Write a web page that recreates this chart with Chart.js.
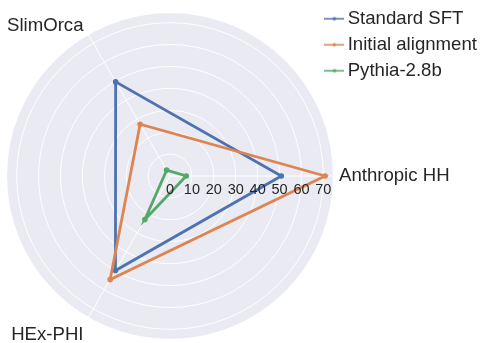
<!DOCTYPE html>
<html>
<head>
<meta charset="utf-8">
<script src="https://cdn.jsdelivr.net/npm/chart.js@4/dist/chart.umd.min.js"></script>
<style>
  html, body { margin: 0; padding: 0; background: #ffffff; }
  canvas { display: block; }
</style>
</head>
<body>
<canvas id="radar" width="482" height="343"></canvas>
<script>
// Data (order follows Chart.js clockwise order starting at the right)
const categories = ['Anthropic HH', 'HEx-PHI', 'SlimOrca'];
const standardSft = [50.8, 49.8, 49.6];
const initialAlignment = [70.8, 54.6, 27.3];
const pythia = [7.4, 22.9, 3.1];
const seriesNames = ['Standard SFT', 'Initial alignment', 'Pythia-2.8b'];
const rMax = 74.4;
const rStep = 10;

const textColor = '#262626';
const fontFamily = '"Liberation Sans", Arial, sans-serif';
const colors = ['#4C72B0', '#DD8452', '#55A868'];

Chart.defaults.font.family = fontFamily;
Chart.defaults.color = textColor;

// small line + dot marker for the legend, like matplotlib
function legendMarker(color) {
    const c = document.createElement('canvas');
    c.width = 20;
    c.height = 6;
    const g = c.getContext('2d');
    g.strokeStyle = color;
    g.lineWidth = 1.5;
    g.beginPath();
    g.moveTo(0, 3);
    g.lineTo(20, 3);
    g.stroke();
    g.fillStyle = color;
    g.beginPath();
    g.arc(10, 3, 1.8, 0, Math.PI * 2);
    g.fill();
    return c;
}

// grey disc behind the grid
const polarBackground = {
    id: 'polarBackground',
    beforeDraw(chart) {
        const r = chart.scales.r;
        const ctx = chart.ctx;
        ctx.save();
        ctx.fillStyle = '#EAEAF2';
        ctx.beginPath();
        ctx.arc(r.xCenter, r.yCenter, r.drawingArea, 0, Math.PI * 2);
        ctx.fill();
        ctx.restore();
    }
};

// tick numbers along the right spoke and the category names
const axisText = {
    id: 'axisText',
    afterDatasetsDraw(chart) {
        const r = chart.scales.r;
        const ctx = chart.ctx;
        ctx.save();
        ctx.fillStyle = textColor;
        ctx.font = '14.5px ' + fontFamily;
        ctx.textAlign = 'center';
        ctx.textBaseline = 'middle';
        r.ticks.forEach(t => {
            ctx.fillText(String(t.value), r.xCenter + r.getDistanceFromCenterForValue(t.value), r.yCenter + 14);
        });

        ctx.font = '18.6px ' + fontFamily;
        categories.forEach((name, i) => {
            const p = r.getPointPosition(i, r.drawingArea + (i === 0 ? 6 : 10));
            ctx.textAlign = p.x > r.xCenter + 1 ? 'left' : 'right';
            ctx.textBaseline = p.y > r.yCenter + 1 ? 'top' : 'middle';
            ctx.fillText(name, p.x, p.y);
        });
        ctx.restore();
    }
};

// legend sits in the top right corner, partly over the plot box
const legendPlace = {
    id: 'legendPlace',
    afterLayout(chart) {
        const lg = chart.legend;
        lg.left = 323;
        lg.top = 2;
        lg.right = chart.width;
        lg.bottom = lg.top + lg.height;
        lg.width = lg.right - lg.left;
    }
};

function makeSet(label, values, color, order) {
    return {
        label: label,
        data: values,
        borderColor: color,
        backgroundColor: color,
        pointBackgroundColor: color,
        pointBorderWidth: 0,
        pointRadius: 2.8,
        borderWidth: 2.8,
        fill: false,
        order: order
    };
}

new Chart(document.getElementById('radar'), {
    type: 'radar',
    data: {
        labels: categories,
        datasets: [
            makeSet(seriesNames[0], standardSft, colors[0], 3),
            makeSet(seriesNames[1], initialAlignment, colors[1], 2),
            makeSet(seriesNames[2], pythia, colors[2], 1)
        ]
    },
    options: {
        responsive: false,
        animation: false,
        layout: { padding: { left: 7, top: 13, right: 0, bottom: 4 } },
        scales: {
            r: {
                min: 0,
                max: rMax,
                startAngle: 90,
                ticks: { stepSize: rStep, includeBounds: false, display: false },
                grid: { color: '#ffffff', lineWidth: 1, circular: true },
                angleLines: { color: '#ffffff', lineWidth: 1 },
                pointLabels: { display: false }
            }
        },
        plugins: {
            tooltip: { enabled: false },
            legend: {
                position: 'right',
                align: 'start',
                maxWidth: 149,
                labels: {
                    usePointStyle: true,
                    pointStyleWidth: 8,
                    padding: 7.4,
                    color: textColor,
                    font: { size: 18.6, family: fontFamily },
                    sort: (a, b) => a.datasetIndex - b.datasetIndex,
                    generateLabels(chart) {
                        const items = Chart.defaults.plugins.legend.labels.generateLabels(chart);
                        items.forEach(it => { it.pointStyle = legendMarker(it.strokeStyle); });
                        return items;
                    }
                }
            }
        }
    },
    plugins: [polarBackground, axisText, legendPlace]
});
</script>
</body>
</html>
